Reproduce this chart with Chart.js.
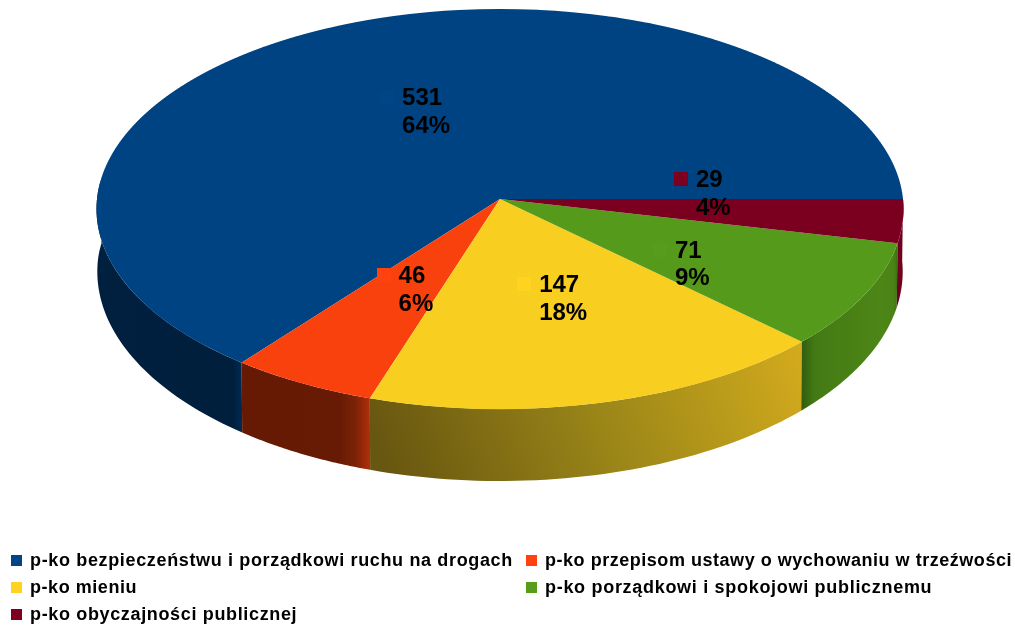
<!DOCTYPE html>
<html lang="pl">
<head>
<meta charset="utf-8">
<title>Wykres</title>
<script src="https://cdn.jsdelivr.net/npm/chart.js@4"></script>
<style>
html,body{margin:0;padding:0;background:#fff;overflow:hidden}
canvas{display:block}
</style>
</head>
<body>
<canvas id="c" width="1015" height="626"></canvas>
<script>
const categories = [
  "p-ko bezpieczeństwu i porządkowi ruchu na drogach",
  "p-ko przepisom ustawy o wychowaniu w trzeźwości",
  "p-ko mieniu",
  "p-ko porządkowi i spokojowi publicznemu",
  "p-ko obyczajności publicznej"
];
const values = [531, 46, 147, 71, 29];
const keyColors = ["#004586", "#ff420e", "#ffd320", "#579d1c", "#7e0021"];
const faceColors = ["#004382", "#f9410d", "#f8cf20", "#559a1a", "#7b0020"];
const legendTracking = [0.65, 0.53, 0.55, 0.7, 0.65];

// Perspective of the pie's top face (a homography of the unit disc)
const VIEW = {cx: 500, cy: 199, X: 403, Y: 199.5, b: 0.05};
const project = (u, v) => {
  const d = 1 + VIEW.b * v;
  return {x: VIEW.cx + VIEW.X * u / d, y: VIEW.cy - VIEW.Y * v / d};
};
const wallDepth = v => 62 + 10 * Math.abs(v);

const wallGradient = (ctx, i) => {
  const stops = (g, list) => { list.forEach(s => g.addColorStop(s[0], s[1])); return g; };
  switch (i) {
    case 0: return stops(ctx.createLinearGradient(97, 0, 243, 0),
      [[0, "#00203f"], [0.93, "#001f3d"], [1, "#002c54"]]);
    case 1: return stops(ctx.createLinearGradient(243, 0, 371, 0),
      [[0, "#661a04"], [0.75, "#671b04"], [0.88, "#7c2206"], [1, "#b5300b"]]);
    case 2: return stops(ctx.createLinearGradient(400, 500, 800, 350),
      [[0, "#685710"], [0.5, "#9a8518"], [0.8, "#bb9c1b"], [1, "#d3aa1d"]]);
    case 3: return stops(ctx.createLinearGradient(800, 0, 898, 0),
      [[0, "#2d5a0e"], [0.15, "#447a14"], [0.85, "#4d8617"], [0.96, "#4a8216"], [1, "#3a6a10"]]);
    default: return "#700020";
  }
};

const piePerspective = {
  id: "piePerspective",
  beforeDatasetDraw(chart, args) {
    const ctx = chart.ctx;
    const arcs = args.meta.data;
    // side walls
    arcs.forEach((el, i) => {
      let a0 = el.startAngle, a1 = el.endAngle;
      const lo = Math.PI * 0.97, hi = Math.PI * 2;
      a0 = Math.max(a0, lo); a1 = Math.min(a1, hi);
      if (a1 <= a0) return;
      const n = 48, top = [], bottom = [];
      for (let k = 0; k <= n; k++) {
        const a = a0 + (a1 - a0) * k / n;
        const u = Math.cos(a), v = Math.sin(a);
        const p = project(u, v);
        top.push(p);
        bottom.push({x: VIEW.cx + (p.x - VIEW.cx) * 0.998, y: p.y + wallDepth(v)});
      }
      ctx.save();
      ctx.beginPath();
      top.forEach((p, k) => k ? ctx.lineTo(p.x, p.y) : ctx.moveTo(p.x, p.y));
      bottom.reverse().forEach(p => ctx.lineTo(p.x, p.y));
      ctx.closePath();
      ctx.fillStyle = wallGradient(ctx, i);
      ctx.fill();
      ctx.restore();
    });
    // top face: the library's own arcs, row band by row band through the perspective
    const el0 = arcs[0], R = el0.outerRadius, sxC = el0.x, syC = el0.y;
    const toV = s => { const w = (VIEW.cy - s) / VIEW.Y; return w / (1 - VIEW.b * w); };
    for (let s = 6; s < 412; s += 2) {
      const s1 = s + 2, v0 = toV(s), v1 = toV(s1), vm = (v0 + v1) / 2;
      const y0 = syC + R * v0, y1 = syC + R * v1;
      const d = (s1 - s) / (y1 - y0);
      const sx = VIEW.X / (1 + VIEW.b * vm) / R;
      ctx.save();
      ctx.beginPath();
      ctx.rect(0, s, chart.width, 2);
      ctx.clip();
      ctx.setTransform(sx, 0, 0, d, VIEW.cx - sx * sxC, s - d * y0);
      arcs.forEach(el => el.draw(ctx));
      ctx.restore();
    }
    return false;
  },
  afterDatasetsDraw(chart) {
    const ctx = chart.ctx;
    const arcs = chart.getDatasetMeta(0).data;
    const total = values.reduce((a, b) => a + b, 0);
    const spread = [0, 0, 0, 17, -17]; // labels 4 and 5 are pushed apart to avoid overlap
    ctx.save();
    ctx.textBaseline = "middle";
    ctx.textAlign = "left";
    ctx.font = "bold 24px 'Liberation Sans'";
    arcs.forEach((el, i) => {
      const a = (el.startAngle + el.endAngle) / 2;
      const c = project(Math.cos(a) * 0.5, Math.sin(a) * 0.5);
      const l1 = String(values[i]);
      const l2 = Math.round(values[i] / total * 100) + "%";
      const tw = Math.max(ctx.measureText(l1).width, ctx.measureText(l2).width);
      const left = c.x - (22 + tw) / 2 + 1.5;
      const cy = c.y + spread[i];
      ctx.fillStyle = keyColors[i];
      ctx.fillRect(Math.round(left), Math.round(cy - 14 - 7), 14, 14);
      ctx.fillStyle = "#000";
      ctx.fillText(l1, left + 22, cy - 12.5);
      ctx.fillText(l2, left + 22, cy + 15);
    });
    // legend
    ctx.font = "bold 18px 'Liberation Sans'";
    categories.forEach((t, i) => {
      const col = i % 2, row = Math.floor(i / 2);
      const x = col ? 526 : 11, y = 561 + row * 27;
      ctx.fillStyle = keyColors[i];
      ctx.fillRect(x, y - 6, 11, 11);
      ctx.fillStyle = "#000";
      ctx.letterSpacing = legendTracking[i] + "px";
      ctx.fillText(t, x + 19, y + 0.5);
    });
    ctx.restore();
  }
};

new Chart(document.getElementById("c"), {
  type: "pie",
  data: {
    labels: categories,
    datasets: [{data: values, backgroundColor: faceColors, borderWidth: 0}]
  },
  options: {
    responsive: false,
    animation: false,
    rotation: 90,
    layout: {padding: 0},
    plugins: {legend: {display: false}, tooltip: {enabled: false}, title: {display: false}}
  },
  plugins: [piePerspective]
});
</script>
</body>
</html>
